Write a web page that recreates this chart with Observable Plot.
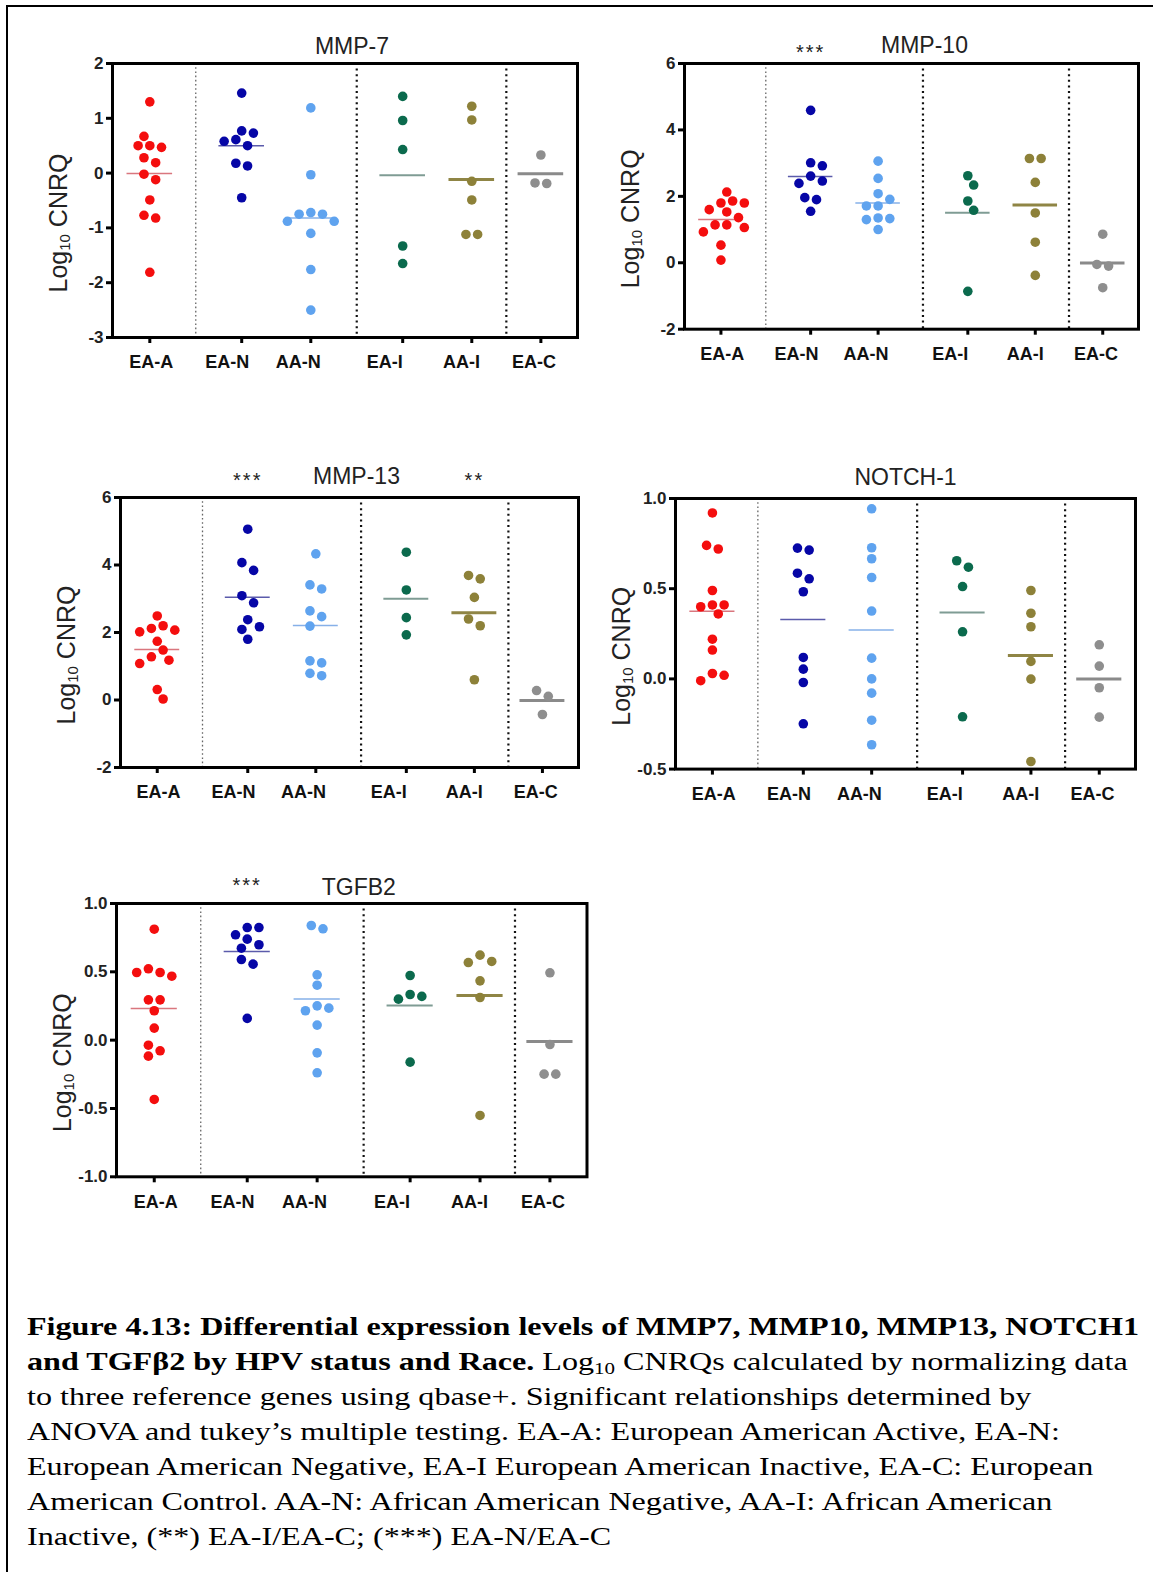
<!DOCTYPE html>
<html>
<head>
<meta charset="utf-8">
<script src="https://cdn.jsdelivr.net/npm/d3@7"></script>
<script src="https://cdn.jsdelivr.net/npm/@observablehq/plot@0.6"></script>
<style>
  body { margin: 0; background: #fff; }
  #page { position: relative; width: 1153px; height: 1572px; overflow: hidden; background: #fff; }
  #border { position: absolute; left: 6px; top: 5px; width: 1300px; height: 1700px; border-top: 2px solid #000; border-left: 2px solid #000; }
  #caption { position: absolute; left: 27px; top: 1309px; font-family: "Liberation Serif", "Times New Roman", serif; font-size: 26px; line-height: 35px; white-space: nowrap; color: #000; transform: scaleX(1.235); transform-origin: 0 0; }
  #caption sub { font-size: 17px; line-height: 0; vertical-align: -4px; }
</style>
</head>
<body>
<div id="page">
  <div id="border"></div>
  <div id="caption">
    <b>Figure 4.13: Differential expression levels of MMP7, MMP10, MMP13, NOTCH1</b><br>
    <b>and TGFβ2 by HPV status and Race.</b> Log<sub>10</sub> CNRQs calculated by normalizing data<br>
    to three reference genes using qbase+. Significant relationships determined by<br>
    ANOVA and tukey’s multiple testing. EA-A: European American Active, EA-N:<br>
    European American Negative, EA-I European American Inactive, EA-C: European<br>
    American Control. AA-N: African American Negative, AA-I: African American<br>
    Inactive, (**) EA-I/EA-C; (***) EA-N/EA-C
  </div>
</div>
<script>
// ---------------- DATA ----------------
const categories = ["EA-A", "EA-N", "AA-N", "EA-I", "AA-I", "EA-C"];

// Log10 CNRQ values per category (order = categories)
const mmp7 = [
  [1.30, 0.67, 0.50, 0.50, 0.47, 0.28, 0.19, -0.02, -0.12, -0.49, -0.77, -0.82, -1.81],
  [1.46, 0.77, 0.73, 0.61, 0.58, 0.50, 0.18, 0.13, -0.45],
  [1.19, -0.03, -0.72, -0.75, -0.75, -0.88, -0.88, -1.10, -1.76, -2.50],
  [1.40, 0.96, 0.43, -1.33, -1.65],
  [1.22, 0.97, -0.15, -0.49, -1.12, -1.12],
  [0.33, -0.18, -0.19]
];
const mmp10 = [
  [2.13, 1.86, 1.80, 1.80, 1.60, 1.53, 1.36, 1.14, 1.14, 1.06, 0.93, 0.53, 0.08],
  [4.59, 3.01, 2.92, 2.61, 2.46, 2.39, 1.96, 1.90, 1.55],
  [3.06, 2.54, 2.08, 1.91, 1.71, 1.71, 1.35, 1.33, 1.30, 1.00],
  [2.62, 2.34, 1.86, 1.58, -0.86],
  [3.14, 3.14, 2.42, 1.50, 0.62, -0.38],
  [0.86, -0.05, -0.10, -0.75]
];
const mmp13 = [
  [2.49, 2.20, 2.12, 2.07, 2.02, 1.74, 1.48, 1.28, 1.18, 1.08, 0.31, 0.03],
  [5.06, 4.07, 3.84, 3.09, 2.88, 2.38, 2.17, 2.09, 1.80],
  [4.33, 3.41, 3.29, 2.64, 2.47, 2.19, 1.16, 1.10, 0.79, 0.72],
  [4.38, 3.26, 2.44, 1.93],
  [3.69, 3.59, 3.04, 2.40, 2.20, 0.60],
  [0.28, 0.11, -0.43]
];
const notch1 = [
  [0.92, 0.74, 0.72, 0.49, 0.41, 0.41, 0.40, 0.36, 0.22, 0.16, 0.03, 0.02, -0.01],
  [0.725, 0.714, 0.586, 0.555, 0.483, 0.119, 0.054, -0.020, -0.249],
  [0.943, 0.727, 0.666, 0.562, 0.376, 0.115, 0.0, -0.079, -0.229, -0.365],
  [0.655, 0.619, 0.512, 0.261, -0.210],
  [0.490, 0.364, 0.289, 0.097, -0.001, -0.458],
  [0.189, 0.071, -0.049, -0.212]
];
const tgfb2 = [
  [0.812, 0.522, 0.495, 0.495, 0.468, 0.295, 0.295, 0.215, 0.088, -0.037, -0.078, -0.117, -0.434],
  [0.824, 0.824, 0.771, 0.739, 0.698, 0.673, 0.590, 0.556, 0.159],
  [0.839, 0.815, 0.478, 0.402, 0.251, 0.234, 0.215, 0.110, -0.093, -0.239],
  [0.473, 0.334, 0.320, 0.300, -0.161],
  [0.622, 0.576, 0.568, 0.434, 0.312, -0.551],
  [0.493, -0.032, -0.249, -0.249]
];

// y-axis tick labels
const mmp7Ticks = [-3, -2, -1, 0, 1, 2];
const mmp10Ticks = [-2, 0, 2, 4, 6];
const mmp13Ticks = [-2, 0, 2, 4, 6];
const notch1Ticks = [-0.5, 0.0, 0.5, 1.0];
const tgfb2Ticks = [-1.0, -0.5, 0.0, 0.5, 1.0];

// significance annotations
const mmp10Stars = [{cat: "EA-N", text: "***"}];
const mmp13Stars = [{cat: "EA-N", text: "***"}, {cat: "AA-I", text: "**"}];
const tgfb2Stars = [{cat: "EA-N", text: "***"}];

// ---------------- STYLE / LAYOUT ----------------
const dotColors = ["#f40e0e", "#0606a6", "#5fa3ef", "#0b6a4d", "#8d8139", "#8e8e8e"];
const meanColors = ["#d9767e", "#5b5bab", "#86b0e8", "#7f9c94", "#8f8545", "#8a8a8a"];
const meanWidths = [1.5, 1.5, 1.5, 2, 3, 3];
const xStep = [0, 1.33, 1, 1.33, 1, 1];          // column spacing (layout)
const groupStarts = [1, 3, 5];                   // dotted separators before these columns
const labelShift = [0.02, -0.21, -0.18, -0.26, -0.15, -0.1];
const meanHalf = 0.33;
const xDomain = [-0.54, 6.19];

const catPos = d3.cumsum(xStep);
const sepPos = groupStarts.map(i => (catPos[i - 1] + catPos[i]) / 2);

const fontFam = '"Liberation Sans", Arial, Helvetica, sans-serif';
const intFmt = d => String(d);
const decFmt = d => d.toFixed(1);

const panels = [
  {title: "MMP-7", values: mmp7, ticks: mmp7Ticks, stars: [], fmt: intFmt,
   frame: [112, 577, 63.3, 337.3], titleDx: 7, titleDy: 17, starDy: 13},
  {title: "MMP-10", values: mmp10, ticks: mmp10Ticks, stars: mmp10Stars, fmt: intFmt,
   frame: [683.5, 1137.5, 63.3, 329], titleDx: 13, titleDy: 18, starDy: 11},
  {title: "MMP-13", values: mmp13, ticks: mmp13Ticks, stars: mmp13Stars, fmt: intFmt,
   frame: [120, 578, 497.3, 767.3], titleDx: 7, titleDy: 21, starDy: 17},
  {title: "NOTCH-1", values: notch1, ticks: notch1Ticks, stars: [], fmt: decFmt,
   frame: [674.5, 1134.5, 497.7, 768.3], titleDx: 0, titleDy: 21, starDy: 19},
  {title: "TGFB2", values: tgfb2, ticks: tgfb2Ticks, stars: tgfb2Stars, fmt: decFmt,
   frame: [115.5, 586, 902.7, 1176], titleDx: 7, titleDy: 16, starDy: 18}
];

// column-scatter layout (dodge points that would overlap), in pixels
function dodge(vals, yUnit) {
  const h = 5.85, minD = 10.3;
  const order = d3.range(vals.length).sort((a, b) => vals[b] - vals[a]);
  const placed = [];
  const res = new Array(vals.length).fill(0);
  for (const i of order) {
    const y = -vals[i] * yUnit;
    for (let n = 0; n < 60; n++) {
      const k = n === 0 ? 0 : (n % 2 ? (n + 1) / 2 : -n / 2);
      const x = k * h;
      if (placed.every(p => (p.x - x) ** 2 + (p.y - y) ** 2 >= minD * minD - 0.01)) {
        placed.push({i, x, y});
        break;
      }
    }
  }
  placed.sort((a, b) => a.y - b.y);
  let cl = [];
  const flush = () => {
    if (!cl.length) return;
    const lo = d3.min(cl, p => p.x), hi = d3.max(cl, p => p.x);
    const s = Math.round(-(lo + hi) / 2 / h) * h;
    cl.forEach(p => res[p.i] = p.x + s);
    cl = [];
  };
  for (const p of placed) {
    if (cl.length && p.y - cl[cl.length - 1].y >= minD) flush();
    cl.push(p);
  }
  flush();
  return res;
}

const page = document.getElementById("page");

for (const p of panels) {
  const [fl, fr, ft, fb] = p.frame;
  const mL = 95, mR = 12, mT = 45, mB = 45;
  const W = fr - fl + mL + mR, H = fb - ft + mT + mB;
  const yDomain = [d3.min(p.ticks), d3.max(p.ticks)];
  const xUnit = (fr - fl) / (xDomain[1] - xDomain[0]);
  const yUnit = (fb - ft) / (yDomain[1] - yDomain[0]);

  const points = [], means = [];
  p.values.forEach((vals, ci) => {
    const offs = dodge(vals, yUnit);
    vals.forEach((v, j) => points.push({x: catPos[ci] + offs[j] / xUnit, y: v, fill: dotColors[ci]}));
    means.push({x1: catPos[ci] - meanHalf, x2: catPos[ci] + meanHalf, y: d3.mean(vals),
                stroke: meanColors[ci], w: meanWidths[ci]});
  });

  const svg = Plot.plot({
    width: W, height: H,
    marginLeft: mL, marginRight: mR, marginTop: mT, marginBottom: mB,
    style: {fontFamily: fontFam, background: "transparent", overflow: "visible"},
    x: {domain: xDomain},
    y: {domain: yDomain},
    color: {type: "identity"},
    marks: [
      Plot.ruleX(sepPos.slice(0, 1), {stroke: "#666", strokeWidth: 1.3, strokeDasharray: "1.6,2.6"}),
      Plot.ruleX(sepPos.slice(1), {stroke: "#111", strokeWidth: 2.2, strokeDasharray: "2,3.6"}),
      Plot.ruleY(means, {x1: "x1", x2: "x2", y: "y", stroke: "stroke", strokeWidth: "w"}),
      Plot.dot(points, {x: "x", y: "y", r: 4.8, fill: "fill", stroke: null}),
      Plot.frame({stroke: "#000", strokeWidth: 3}),
      Plot.axisY({ticks: p.ticks, tickSize: 6, strokeWidth: 3, tickFormat: () => "", label: null}),
      Plot.text(p.ticks, {y: d => d, text: d => p.fmt(d), frameAnchor: "left", textAnchor: "end",
                          dx: -9, fontSize: 17, fontWeight: "bold", fill: "#222"}),
      Plot.axisX({ticks: catPos, tickSize: 6, strokeWidth: 3, tickFormat: () => "", label: null}),
      Plot.text(categories, {x: (d, i) => catPos[i] + labelShift[i], text: d => d,
                             frameAnchor: "bottom", lineAnchor: "middle", dy: 25,
                             fontSize: 18, fontWeight: "bold", fill: "#111"}),
      Plot.text([p.title], {text: d => d, frameAnchor: "top", lineAnchor: "middle",
                            dy: -p.titleDy, dx: p.titleDx, fontSize: 23, fill: "#222"}),
      Plot.text(p.stars, {x: d => catPos[categories.indexOf(d.cat)], text: "text",
                          frameAnchor: "top", lineAnchor: "middle", dy: -p.starDy,
                          fontSize: 20, fill: "#222"})
    ]
  });

  // y-axis title with subscript
  const t = d3.select(svg).append("text")
    .attr("transform", `translate(${mL - 54},${mT + (fb - ft) / 2 + 23}) rotate(-90)`)
    .attr("text-anchor", "middle")
    .attr("dominant-baseline", "central")
    .style("font-size", "25px")
    .style("fill", "#222");
  t.append("tspan").text("Log");
  t.append("tspan").style("font-size", "15px").attr("dy", 6).text("10");
  t.append("tspan").attr("dy", -6).text(" CNRQ");

  d3.select(svg).selectAll("text")
    .filter(function () { return /^\*+$/.test(this.textContent); })
    .attr("letter-spacing", "2");

  svg.style.position = "absolute";
  svg.style.left = (fl - mL) + "px";
  svg.style.top = (ft - mT) + "px";
  svg.style.maxWidth = "none";
  page.appendChild(svg);
}
</script>
</body>
</html>
